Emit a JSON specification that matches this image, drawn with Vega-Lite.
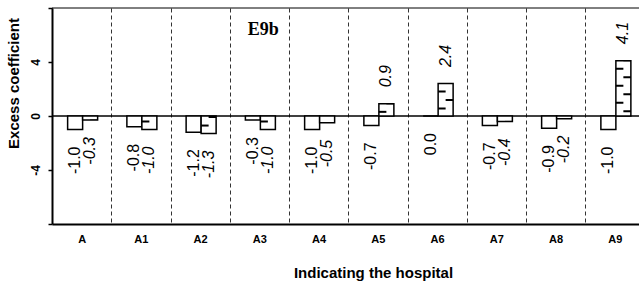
{
  "$schema": "https://vega.github.io/schema/vega-lite/v6.json",
  "width": 587,
  "height": 216,
  "autosize": {"type": "none"},
  "padding": {"left": 52, "top": 8, "right": 0, "bottom": 65},
  "background": "white",
  "config": {
    "view": {"stroke": null},
    "font": "Liberation Sans",
    "locale": {"number": {"decimal": ".", "thousands": ",", "grouping": [3], "currency": ["$", ""], "minus": "-"}}
  },
  "data": {
    "values": [
      {"hospital": "A", "series": "plain", "value": -1.0},
      {"hospital": "A", "series": "hatched", "value": -0.3},
      {"hospital": "A1", "series": "plain", "value": -0.8},
      {"hospital": "A1", "series": "hatched", "value": -1.0},
      {"hospital": "A2", "series": "plain", "value": -1.2},
      {"hospital": "A2", "series": "hatched", "value": -1.3},
      {"hospital": "A3", "series": "plain", "value": -0.3},
      {"hospital": "A3", "series": "hatched", "value": -1.0},
      {"hospital": "A4", "series": "plain", "value": -1.0},
      {"hospital": "A4", "series": "hatched", "value": -0.5},
      {"hospital": "A5", "series": "plain", "value": -0.7},
      {"hospital": "A5", "series": "hatched", "value": 0.9},
      {"hospital": "A6", "series": "plain", "value": 0.0},
      {"hospital": "A6", "series": "hatched", "value": 2.4},
      {"hospital": "A7", "series": "plain", "value": -0.7},
      {"hospital": "A7", "series": "hatched", "value": -0.4},
      {"hospital": "A8", "series": "plain", "value": -0.9},
      {"hospital": "A8", "series": "hatched", "value": -0.2},
      {"hospital": "A9", "series": "plain", "value": -1.0},
      {"hospital": "A9", "series": "hatched", "value": 4.1}
    ]
  },
  "encoding": {
    "x": {
      "field": "hospital",
      "type": "nominal",
      "sort": null,
      "scale": {
        "domain": ["A", "A1", "A2", "A3", "A4", "A5", "A6", "A7", "A8", "A9"],
        "range": [0, 592.5],
        "paddingInner": 0,
        "paddingOuter": 0
      },
      "axis": {
        "title": "Indicating the hospital",
        "titleFontSize": 15,
        "titleFontWeight": "bold",
        "titleColor": "black",
        "titleX": 321,
        "titleY": 53,
        "titleAlign": "center",
        "titleBaseline": "alphabetic",
        "labelFontSize": 11,
        "labelFontWeight": "bold",
        "labelColor": "black",
        "labelAngle": 0,
        "labelPadding": 18.5,
        "labelBaseline": "alphabetic",
        "ticks": false,
        "tickBand": "extent",
        "grid": true,
        "gridDash": [4, 3],
        "gridColor": "#333333",
        "gridWidth": 1,
        "domainColor": "black",
        "domainWidth": 2
      }
    },
    "y": {
      "field": "value",
      "type": "quantitative",
      "scale": {"domain": [-8, 8], "nice": false, "zero": false},
      "axis": {
        "values": [-8, -4, 0, 4, 8],
        "labelExpr": "datum.value == 8 || datum.value == -8 ? '' : datum.label",
        "title": "Excess coefficient",
        "titleFontSize": 15,
        "titleFontWeight": "bold",
        "titleColor": "black",
        "titleAngle": 270,
        "titleX": -34,
        "titleY": 75,
        "titleAlign": "center",
        "titleBaseline": "alphabetic",
        "labelAngle": 270,
        "labelAlign": "center",
        "labelBaseline": "alphabetic",
        "labelFontSize": 12,
        "labelFontWeight": "bold",
        "labelColor": "black",
        "labelPadding": 9,
        "tickSize": 4,
        "tickWidth": 1.5,
        "tickColor": "black",
        "domainColor": "black",
        "domainWidth": 2,
        "grid": false
      }
    }
  },
  "layer": [
    {
      "transform": [{"filter": "datum.hospital == 'A' && datum.series == 'plain'"}],
      "mark": {"type": "rule", "color": "black", "strokeWidth": 1.5},
      "encoding": {"x": null, "y": {"datum": 0}}
    },
    {
      "transform": [{"filter": "datum.series == 'plain'"}],
      "mark": {"type": "bar", "width": 15, "xOffset": -6.5, "fill": "white", "stroke": "black", "strokeWidth": 1.5}
    },
    {
      "transform": [{"filter": "datum.series == 'hatched'"}],
      "mark": {"type": "bar", "width": 15, "xOffset": 8.5, "fill": "white", "stroke": "black", "strokeWidth": 1.5}
    },
    {
      "transform": [{"filter": "datum.series == 'hatched'"}],
      "mark": {"type": "rule", "xOffset": 4.75, "color": "black", "strokeWidth": 7.5, "strokeDash": [2, 15], "strokeDashOffset": 10, "strokeCap": "butt"},
      "encoding": {"y2": {"datum": 0}}
    },
    {
      "transform": [{"filter": "datum.series == 'hatched'"}],
      "mark": {"type": "rule", "xOffset": 12.25, "color": "black", "strokeWidth": 7.5, "strokeDash": [2, 15], "strokeDashOffset": 1.5, "strokeCap": "butt"},
      "encoding": {"y2": {"datum": 0}}
    },
    {
      "transform": [{"filter": "datum.series == 'plain' && datum.value <= 0"}],
      "mark": {"type": "text", "angle": 270, "align": "right", "baseline": "middle", "dx": -17, "xOffset": -6.5, "fontSize": 16, "color": "black"},
      "encoding": {"text": {"field": "value", "type": "quantitative", "format": ".1f"}}
    },
    {
      "transform": [{"filter": "datum.series == 'hatched' && datum.value <= 0"}],
      "mark": {"type": "text", "angle": 270, "align": "right", "baseline": "middle", "dx": -17, "xOffset": 8.5, "fontSize": 16, "fontStyle": "italic", "color": "black"},
      "encoding": {"text": {"field": "value", "type": "quantitative", "format": ".1f"}}
    },
    {
      "transform": [{"filter": "datum.series == 'hatched' && datum.value > 0"}],
      "mark": {"type": "text", "angle": 270, "align": "left", "baseline": "middle", "dx": 16.5, "xOffset": 8.5, "fontSize": 16, "fontStyle": "italic", "color": "black"},
      "encoding": {"text": {"field": "value", "type": "quantitative", "format": ".1f"}}
    },
    {
      "data": {"values": [{"panel": "E9b", "hospital": "A3", "value": 6}]},
      "mark": {"type": "text", "font": "Liberation Serif", "fontWeight": "bold", "fontSize": 18, "align": "center", "baseline": "alphabetic", "dx": 4, "color": "black"},
      "encoding": {"text": {"field": "panel", "type": "nominal"}}
    },
    {
      "transform": [{"filter": "datum.hospital == 'A' && datum.series == 'plain'"}],
      "mark": {"type": "rule", "color": "black", "strokeWidth": 1},
      "encoding": {"x": null, "y": {"datum": 8}}
    }
  ]
}
